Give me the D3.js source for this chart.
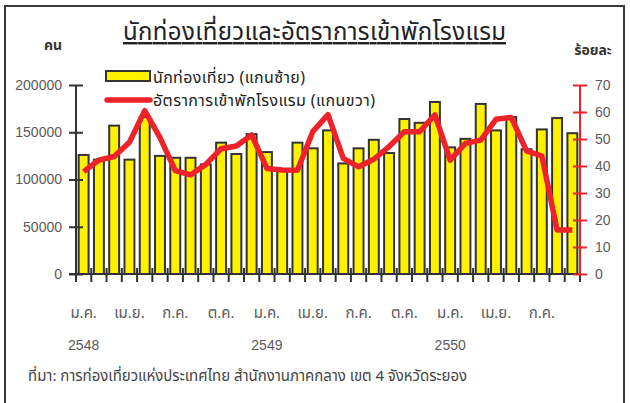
<!DOCTYPE html>
<html>
<head>
<meta charset="utf-8">
<script src="https://cdn.jsdelivr.net/npm/d3@7"></script>
<style>
  body { margin: 0; background: #fff; }
  text { font-family: Tahoma, "Noto Sans Thai", "Noto Sans", "DejaVu Sans", sans-serif; }
  .num { font-family: "Liberation Sans", Arial, sans-serif; }
</style>
</head>
<body>
<svg id="chart" width="630" height="403"></svg>
<script>
// months Jan 2548 .. Sep 2550
let monthLabels = ["ม.ค.", "", "", "เม.ย.", "", "", "ก.ค.", "", "", "ต.ค.", "", "",
  "ม.ค.", "", "", "เม.ย.", "", "", "ก.ค.", "", "", "ต.ค.", "", "",
  "ม.ค.", "", "", "เม.ย.", "", "", "ก.ค.", "", ""];
let yearLabels = ["2548", "", "", "", "", "", "", "", "", "", "", "",
  "2549", "", "", "", "", "", "", "", "", "", "", "",
  "2550", "", "", "", "", "", "", "", ""];

// tourists (left axis)
let tourists = [126000, 121000, 157000, 121000, 166000, 125000, 123000, 123000, 116000, 139000, 127000, 148000,
  129000, 110000, 139000, 133000, 152000, 117000, 133000, 142000, 128000, 164000, 160000, 182000,
  134000, 143000, 180000, 152000, 166000, 132000, 153000, 165000, 149000];
// hotel occupancy % (right axis)
let occupancy = [37.9, 42.2, 43.5, 48.8, 60.5, 50.5, 38.3, 36.7, 40.6, 46.4, 47.4, 51.5,
  39.1, 38.5, 38.4, 52.7, 59.0, 42.8, 39.7, 42.5, 47.2, 52.7, 52.7, 58.9,
  42.2, 48.4, 49.6, 57.3, 58.0, 45.6, 43.7, 16.3, 16.3];

let leftTicks = [0, 50000, 100000, 150000, 200000];
let rightTicks = [0, 10, 20, 30, 40, 50, 60, 70];

let margins = { top: 85, right: 50, bottom: 129, left: 76 };
let width = 630 - margins.left - margins.right;
let height = 403 - margins.top - margins.bottom;

let svg = d3.select("#chart");

// frame
svg.append("rect")
  .attr("x", 5).attr("y", 6)
  .attr("width", 619).attr("height", 400)
  .style("fill", "none").style("stroke", "#3a3a3a").style("stroke-width", 2);

let idx = d3.range(tourists.length);
let xScale = d3.scaleBand().domain(idx).range([0, width]).paddingInner(0.35).paddingOuter(0.175);
let xTick = d3.scaleLinear().domain([0, tourists.length]).range([0, width]);
let yLeft = d3.scaleLinear().domain([0, 200000]).range([height, 0]);
let yRight = d3.scaleLinear().domain([0, 70]).range([height, 0]);

let graph = svg.append("g")
  .attr("transform", "translate(" + margins.left + "," + margins.top + ")");

// bars
graph.selectAll(".bar")
  .data(tourists)
  .enter().append("rect")
  .attr("class", "bar")
  .attr("x", function(d, i) { return xScale(i); })
  .attr("y", function(d) { return yLeft(d); })
  .attr("width", xScale.bandwidth())
  .attr("height", function(d) { return height - yLeft(d); })
  .style("fill", "#fff100")
  .style("stroke", "#333")
  .style("stroke-width", 2);

// x axis with crossing ticks at the category borders
let xAxisG = graph.append("g").attr("transform", "translate(0," + height + ")");
xAxisG.append("line")
  .attr("x1", -7).attr("x2", width)
  .style("stroke", "#333").style("stroke-width", 2);
xAxisG.selectAll(".xt")
  .data(d3.range(tourists.length + 1))
  .enter().append("line")
  .attr("x1", function(d) { return xTick(d); })
  .attr("x2", function(d) { return xTick(d); })
  .attr("y1", -6).attr("y2", 8)
  .style("stroke", "#333").style("stroke-width", 2);

// left axis
let leftAxis = d3.axisLeft(yLeft).tickValues(leftTicks).tickFormat(d3.format("d")).tickSize(7);
let lg = graph.append("g").call(leftAxis);
lg.select(".domain").remove();
lg.append("line").attr("y1", 0).attr("y2", height).style("stroke", "#333").style("stroke-width", 2);
lg.selectAll(".tick line").attr("x1", 7).attr("x2", -7).style("stroke", "#333").style("stroke-width", 2);
lg.selectAll(".tick text").attr("class", "num").attr("x", -14)
  .style("font-size", "14px").style("fill", "#5a5a5a");

// right axis
let rightAxis = d3.axisRight(yRight).tickValues(rightTicks).tickSize(7);
let rg = graph.append("g").attr("transform", "translate(" + width + ",0)").call(rightAxis);
rg.select(".domain").remove();
rg.append("line").attr("y1", 0).attr("y2", height).style("stroke", "#ee2229").style("stroke-width", 2);
rg.selectAll(".tick line").attr("x1", -7).attr("x2", 7).style("stroke", "#ee2229").style("stroke-width", 2);
rg.selectAll(".tick text").attr("class", "num").attr("x", 15)
  .style("font-size", "14px").style("fill", "#5a5a5a");

// occupancy line
let line = d3.line()
  .x(function(d, i) { return xScale(i) + xScale.bandwidth() / 2; })
  .y(function(d) { return yRight(d); });

graph.append("path")
  .attr("d", line(occupancy))
  .style("fill", "none")
  .style("stroke", "#ee2229")
  .style("stroke-width", 5.5)
  .style("stroke-linejoin", "round");

// month and year labels
graph.selectAll(".mlab")
  .data(monthLabels)
  .enter().append("text")
  .attr("x", function(d, i) { return xScale(i) + xScale.bandwidth() / 2; })
  .attr("y", height + 44)
  .attr("text-anchor", "middle")
  .style("font-size", "15px").style("fill", "#5a5a5a")
  .text(function(d) { return d; });

graph.selectAll(".ylab")
  .data(yearLabels)
  .enter().append("text")
  .attr("class", "num")
  .attr("x", function(d, i) { return xScale(i) + xScale.bandwidth() / 2; })
  .attr("y", height + 76)
  .attr("text-anchor", "middle")
  .style("font-size", "14px").style("fill", "#5a5a5a")
  .text(function(d) { return d; });

// titles
svg.append("text")
  .attr("x", 123).attr("y", 40)
  .attr("textLength", 383).attr("lengthAdjust", "spacing")
  .style("font-size", "24px").style("fill", "#222")
  .style("text-decoration", "underline")
  .text("นักท่องเที่ยวและอัตราการเข้าพักโรงแรม");

svg.append("text")
  .attr("x", 53).attr("y", 50).attr("text-anchor", "middle")
  .style("font-size", "14px").style("font-weight", "bold").style("fill", "#333")
  .text("คน");

svg.append("text")
  .attr("x", 593).attr("y", 55).attr("text-anchor", "middle")
  .style("font-size", "14px").style("font-weight", "bold").style("fill", "#333")
  .text("ร้อยละ");

// legend
let legend = svg.append("g").attr("transform", "translate(105,70)");
legend.append("rect")
  .attr("x", 1).attr("y", 1).attr("width", 44).attr("height", 10)
  .style("fill", "#fff100").style("stroke", "#333").style("stroke-width", 2);
legend.append("text")
  .attr("x", 48).attr("y", 13)
  .attr("textLength", 152).attr("lengthAdjust", "spacing")
  .style("font-size", "16px").style("fill", "#222")
  .text("นักท่องเที่ยว (แกนซ้าย)");
legend.append("line")
  .attr("x1", 2).attr("x2", 45).attr("y1", 30).attr("y2", 30)
  .style("stroke", "#ee2229").style("stroke-width", 5.5).style("stroke-linecap", "round");
legend.append("text")
  .attr("x", 48).attr("y", 36)
  .attr("textLength", 222).attr("lengthAdjust", "spacing")
  .style("font-size", "16px").style("fill", "#222")
  .text("อัตราการเข้าพักโรงแรม (แกนขวา)");

// source
svg.append("text")
  .attr("x", 28).attr("y", 381)
  .attr("textLength", 439).attr("lengthAdjust", "spacing")
  .style("font-size", "15px").style("fill", "#444")
  .text("ที่มา: การท่องเที่ยวแห่งประเทศไทย สำนักงานภาคกลาง เขต 4 จังหวัดระยอง");
</script>
</body>
</html>
